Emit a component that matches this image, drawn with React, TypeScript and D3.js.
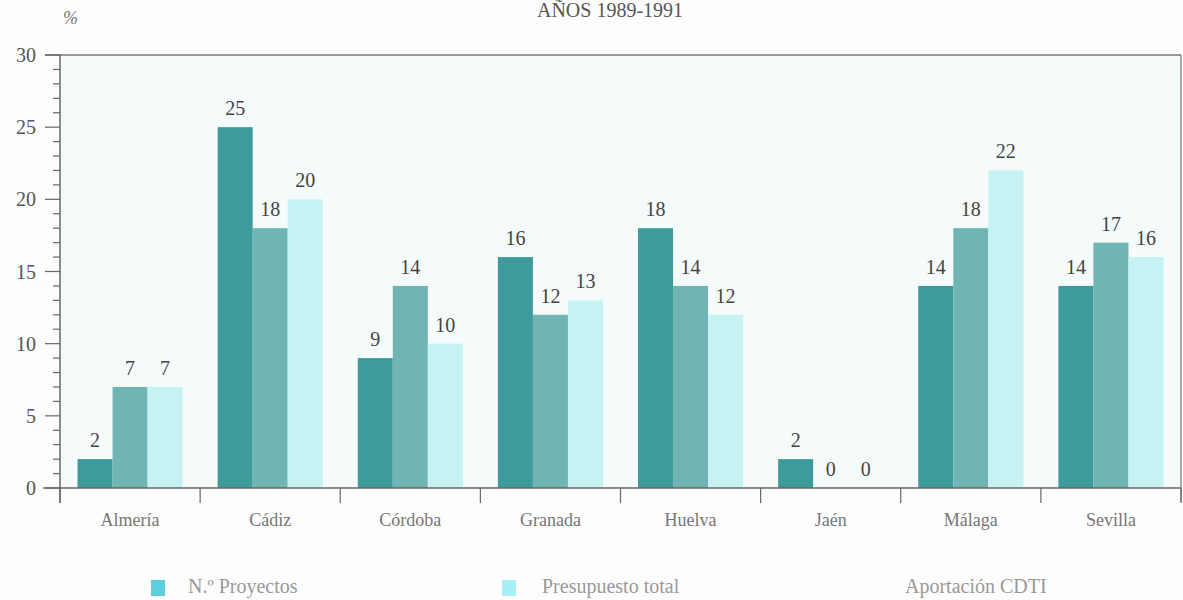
import React from 'react';
import { scaleBand, scaleLinear, range } from 'd3';

const provincias = ['Almería', 'Cádiz', 'Córdoba', 'Granada', 'Huelva', 'Jaén', 'Málaga', 'Sevilla'];
const proyectos = [2, 25, 9, 16, 18, 2, 14, 14];
const presupuesto = [7, 18, 14, 12, 14, 0, 18, 17];
const aportacion = [7, 20, 10, 13, 12, 0, 22, 16];
const seriesNames = ['N.º Proyectos', 'Presupuesto total', 'Aportación CDTI'];
const yTicks = [0, 5, 10, 15, 20, 25, 30];

const colors = ['#3e9b9b', '#70b4b4', '#c6f2f3'];
const legendColors = ['#5ccfdc', '#a6eff4', null];

const W = 1183;
const H = 600;
const margin = { top: 55, right: 2, bottom: 112, left: 60 };
const FONT = '"Liberation Serif", "Times New Roman", serif';

const App = () => {
  const values = [proyectos, presupuesto, aportacion];
  const x0 = scaleBand().domain(provincias).range([margin.left, W - margin.right]);
  const x1 = scaleBand()
    .domain(seriesNames)
    .range([0, x0.bandwidth()])
    .paddingOuter(0.5);
  const y = scaleLinear().domain([0, 30]).range([H - margin.bottom, margin.top]);
  const y0 = y(0);
  const left = margin.left;
  const right = W - margin.right;
  const minor = range(0, 31).filter(v => v % 5 !== 0);
  const borders = provincias.map(p => x0(p) as number).concat([right]);

  const legendX = [151, 502, null];
  const legendTextX = [188, 542, 905];

  return (
    <svg width={W} height={H} style={{ position: 'absolute', left: 0, top: 0, background: '#fdfdfd' }}
      fontFamily={FONT}>
      <text x={610} y={17} textAnchor="middle" fontSize={20} fill="#555">AÑOS 1989-1991</text>
      <text x={63} y={24} fontSize={18} fontStyle="italic" fill="#777">%</text>

      <rect x={left} y={y(30)} width={right - left} height={y0 - y(30)} fill="#f5fbfb" />

      {values.map((vals, si) =>
        provincias.map((p, i) => {
          const bx = (x0(p) as number) + (x1(seriesNames[si]) as number);
          return (
            <g key={`${si}-${i}`}>
              <rect x={bx} y={y(vals[i])} width={x1.bandwidth()} height={y0 - y(vals[i])} fill={colors[si]} />
              <text x={bx + x1.bandwidth() / 2} y={y(vals[i]) - 12} textAnchor="middle" fontSize={20} fill="#444">
                {vals[i]}
              </text>
            </g>
          );
        })
      )}

      {/* frame */}
      <line x1={left - 15} x2={right} y1={y(30)} y2={y(30)} stroke="#777" strokeWidth={1.5} />
      <line x1={right} x2={right} y1={y(30)} y2={y0 + 14} stroke="#777" strokeWidth={1.2} />
      <line x1={left} x2={left} y1={y(30)} y2={y0 + 15} stroke="#666" strokeWidth={1.5} />
      <line x1={left - 17} x2={right} y1={y0} y2={y0} stroke="#666" strokeWidth={1.5} />

      {yTicks.map(t => (
        <g key={t}>
          <line x1={left - 15} x2={left} y1={y(t)} y2={y(t)} stroke="#666" strokeWidth={1.2} />
          <text x={36} y={y(t)} dy="0.35em" textAnchor="end" fontSize={20} fill="#555">{t}</text>
        </g>
      ))}
      {minor.map(t => (
        <line key={t} x1={left - 7} x2={left} y1={y(t)} y2={y(t)} stroke="#666" strokeWidth={1.2} />
      ))}

      {borders.map((bx, i) => (
        <line key={i} x1={bx} x2={bx} y1={y0} y2={y0 + 15} stroke="#666" strokeWidth={1.2} />
      ))}
      {provincias.map(p => (
        <text key={p} x={(x0(p) as number) + x0.bandwidth() / 2} y={y0 + 38} textAnchor="middle"
          fontSize={18} fill="#777">{p}</text>
      ))}

      {seriesNames.map((s, i) => (
        <g key={s}>
          {legendColors[i] && (
            <rect x={legendX[i] as number} y={580} width={14} height={16} fill={legendColors[i] as string} />
          )}
          <text x={legendTextX[i]} y={593} fontSize={20} fill="#999">{s}</text>
        </g>
      ))}
    </svg>
  );
};

export default App;
